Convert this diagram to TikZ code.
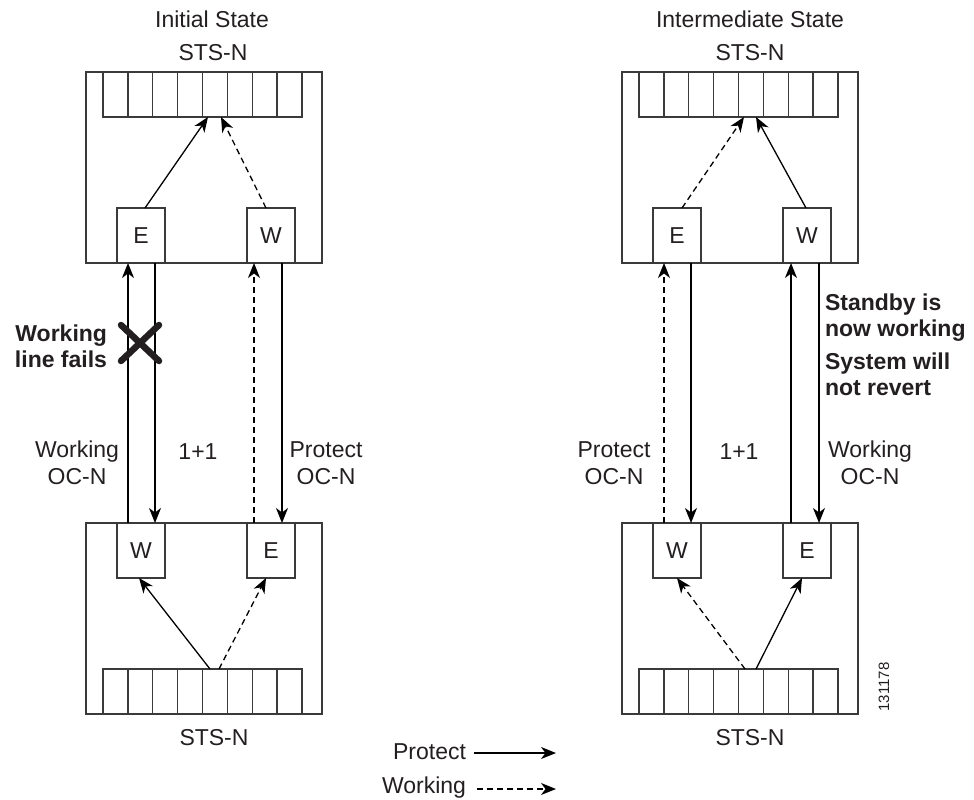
\documentclass[tikz,border=0pt]{standalone}
\usepackage{fontspec}
\setmainfont{Liberation Sans}
\usetikzlibrary{arrows.meta,calc}
\definecolor{boxc}{HTML}{3A3A3A}
\definecolor{txt}{HTML}{231F20}
\newcommand\slotrow[3]{%
  \node[slots] (#1) at (#2,#3) {};
  \foreach \i in {1,...,7} {\draw[draw=boxc, line width=1.3pt] ($(#1.north west)+(\i*24.875,0)$) -- ($(#1.south west)+(\i*24.875,0)$);}
}
\begin{document}
\begin{tikzpicture}[x=1pt,y=-1pt,
  every node/.style={font=\fontsize{23}{27}\selectfont, text=txt, inner sep=0pt, outer sep=0pt},
  frame/.style={draw=boxc, line width=1.3pt, minimum width=236pt, minimum height=191pt, anchor=north west},
  slots/.style={draw=boxc, line width=1.3pt, minimum width=199pt, minimum height=45pt, anchor=north west},
  port/.style={draw=boxc, line width=1.3pt, fill=white, minimum width=48pt, minimum height=55pt, anchor=north west},
  arr/.style={draw=black, line width=1.3pt, -{Stealth[length=15pt,width=12pt,inset=4.5pt]}},
  dsh/.style={arr, dash pattern=on 6pt off 4pt},
  lbl/.style={align=center},
  bold/.style={font=\fontsize{23}{26}\selectfont\bfseries}]
\useasboundingbox (0,0) rectangle (974,800);

% ---------- titles ----------
\node (t1) at (212,19) {Initial State};
\node (t2) at (750,19) {Intermediate State};

% ---------- left side ----------
\node[frame] (ltop) at (86,72) {};
\slotrow{ltS}{103}{72}
\node[port] (ltE) at (117,208) {E};
\node[port] (ltW) at (247,208) {W};
\node (lstsT) at (213,53) {STS-N};

\node[frame] (lbot) at (86,523) {};
\slotrow{lbS}{103}{669}
\node[port] (lbW) at (117,523) {W};
\node[port] (lbE) at (247,523) {E};
\node (lstsB) at (214,738) {STS-N};

% inner arrows left
\draw[arr] ([xshift=28pt]ltE.north west) -- ([xshift=105pt]ltS.south west);
\draw[dsh] ([xshift=19pt]ltW.north west) -- ([xshift=118pt]ltS.south west);
\draw[arr] ([xshift=107pt]lbS.north west) -- ([xshift=22pt]lbW.south west);
\draw[dsh] ([xshift=116pt]lbS.north west) -- ([xshift=19pt]lbE.south west);

% vertical lines left
\draw[arr] ([xshift=11pt]lbW.north west) -- ([xshift=11pt]ltE.south west);
\draw[arr] ([xshift=38pt]ltE.south west) -- ([xshift=38pt]lbW.north west);
\draw[dsh] ([xshift=7pt]lbE.north west) -- ([xshift=7pt]ltW.south west);
\draw[arr] ([xshift=35pt]ltW.south west) -- ([xshift=35pt]lbE.north west);

% failure mark
\draw[line width=6.5pt, line cap=round, draw=txt] (121,325) -- (159,361) (121,361) -- (159,325);
\node[bold, align=right, anchor=east] (fail) at (107,346) {Working\\line fails};

\node[lbl] (lwl) at (77,463) {Working\\OC-N};
\node (l11) at (198,452) {1+1};
\node[lbl] (lpl) at (326,463) {Protect\\OC-N};

% ---------- right side ----------
\node[frame] (rtop) at (622,72) {};
\slotrow{rtS}{639}{72}
\node[port] (rtE) at (653,208) {E};
\node[port] (rtW) at (783,208) {W};
\node (rstsT) at (750,53) {STS-N};

\node[frame] (rbot) at (622,523) {};
\slotrow{rbS}{639}{669}
\node[port] (rbW) at (653,523) {W};
\node[port] (rbE) at (783,523) {E};
\node (rstsB) at (750,738) {STS-N};

% inner arrows right
\draw[dsh] ([xshift=29pt]rtE.north west) -- ([xshift=105pt]rtS.south west);
\draw[arr] ([xshift=23pt]rtW.north west) -- ([xshift=117pt]rtS.south west);
\draw[dsh] ([xshift=106pt]rbS.north west) -- ([xshift=24pt]rbW.south west);
\draw[arr] ([xshift=117pt]rbS.north west) -- ([xshift=19pt]rbE.south west);

% vertical lines right
\draw[dsh] ([xshift=11pt]rbW.north west) -- ([xshift=11pt]rtE.south west);
\draw[arr] ([xshift=38pt]rtE.south west) -- ([xshift=38pt]rbW.north west);
\draw[arr] ([xshift=8pt]rbE.north west) -- ([xshift=8pt]rtW.south west);
\draw[arr] ([xshift=36pt]rtW.south west) -- ([xshift=36pt]rbE.north west);

\node[bold, align=left, anchor=west] (stb) at (825,318) {Standby is\\now working};
\node[bold, align=left, anchor=west] (sys) at (825,374) {System will\\not revert};

\node[lbl] (rpl) at (614,463) {Protect\\OC-N};
\node (r11) at (739,452) {1+1};
\node[lbl] (rwl) at (870,463) {Working\\OC-N};

\node[rotate=90, font=\fontsize{15}{18}\selectfont] (fid) at (884,687) {131178};

% ---------- legend ----------
\node[anchor=east] (lgp) at (466,752) {Protect};
\node[anchor=east] (lgw) at (466,788) {Working};
\coordinate (lgpa) at (474,753);
\coordinate (lgpb) at (556,753);
\coordinate (lgwa) at (477,789);
\coordinate (lgwb) at (556,789);
\draw[arr] (lgpa) -- (lgpb);
\draw[dsh] (lgwa) -- (lgwb);
\end{tikzpicture}
\end{document}
